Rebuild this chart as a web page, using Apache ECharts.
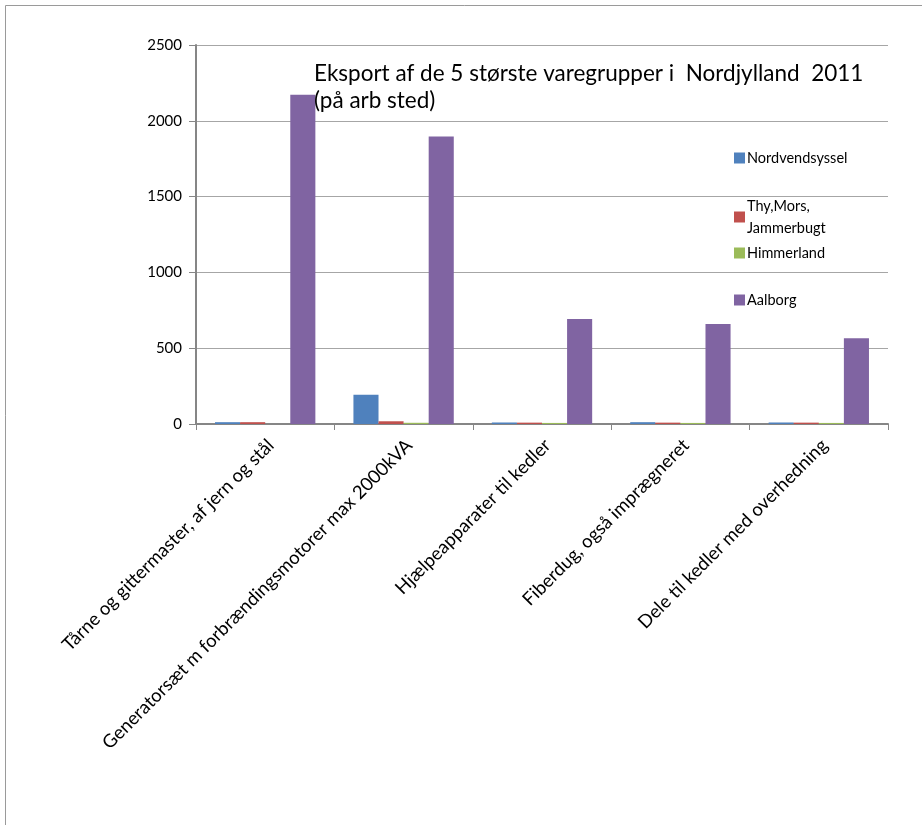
<!DOCTYPE html>
<html><head><meta charset="utf-8">
<script src="https://cdn.jsdelivr.net/npm/echarts@6/dist/echarts.min.js"></script>
<style>html,body{margin:0;padding:0;background:#fff}#c{width:922px;height:825px}</style>
</head><body><div id="c"></div>
<script>
const categories = ["Tårne og gittermaster, af jern og stål","Generatorsæt m forbrændingsmotorer max 2000kVA","Hjælpeapparater til kedler","Fiberdug, også imprægneret","Dele til kedler med overhedning"];
const seriesNames = ["Nordvendsyssel","Thy,Mors, Jammerbugt","Himmerland","Aalborg"];
const nordvendsyssel = [12, 193, 10, 12, 10];
const thyMors = [12, 18, 9, 9, 9];
const himmerland = [0, 8, 7, 7, 7];
const aalborg = [2172, 1896, 692, 659, 566];
const yTicks = [0, 500, 1000, 1500, 2000, 2500];
const colors = ["#4F81BD","#C0504D","#9BBB59","#8064A2"];
const font = "Lato, 'Open Sans', sans-serif";

const chart = echarts.init(document.getElementById('c'), null, {renderer:'canvas'});
const values = [nordvendsyssel, thyMors, himmerland, aalborg];
const legendTops = [142, 190, 237, 284];
chart.setOption({
  animation:false,
  color: colors,
  title:{text:"Eksport af de 5 største varegrupper i  Nordjylland  2011\n(på arb sted)", left:309, top:55,
    textStyle:{fontFamily:font, fontSize:22.5, fontWeight:'normal', color:'#000', lineHeight:27}},
  graphic:[{type:'rect', shape:{x:5.5,y:5.5,width:1200,height:1200}, style:{fill:'none', stroke:'#9a9a9a', lineWidth:1}, silent:true}],
  legend: seriesNames.map((n,i)=>({
    data:[n], left:729, top:legendTops[i], orient:'vertical', itemWidth:11, itemHeight:11, itemGap:4,
    icon:'rect',
    formatter: (name)=> name === "Thy,Mors, Jammerbugt" ? "Thy,Mors,\nJammerbugt" : name,
    textStyle:{fontFamily:font, fontSize:14.5, color:'#000', lineHeight:22, padding:[0,0,0,-3]}
  })),
  grid:{left:196, right:34, top:45, bottom:401, containLabel:false},
  xAxis:{type:'category', data:categories, boundaryGap:true,
    axisLine:{lineStyle:{color:'#868686', width:2}},
    axisTick:{show:true, alignWithLabel:false, length:6, lineStyle:{color:'#868686', width:1}},
    axisLabel:{rotate:45, interval:0, fontFamily:font, fontSize:18.5, color:'#000', margin:24, padding:[0,-8,0,0]}},
  yAxis:{type:'value', min:yTicks[0], max:yTicks[yTicks.length-1], interval:500,
    axisLine:{show:true, lineStyle:{color:'#868686', width:2}},
    axisTick:{show:true, length:7, lineStyle:{color:'#868686'}},
    splitLine:{lineStyle:{color:'#a6a6a6', width:1}},
    axisLabel:{fontFamily:font, fontSize:15, color:'#000', margin:14, formatter:(v)=>String(v)}},
  series: values.map((v,i)=>({
    name: seriesNames[i], type:'bar', data:v, barGap:'0%', barCategoryGap:'27.5%',
    itemStyle:{color:colors[i]}
  }))
});
</script></body></html>
